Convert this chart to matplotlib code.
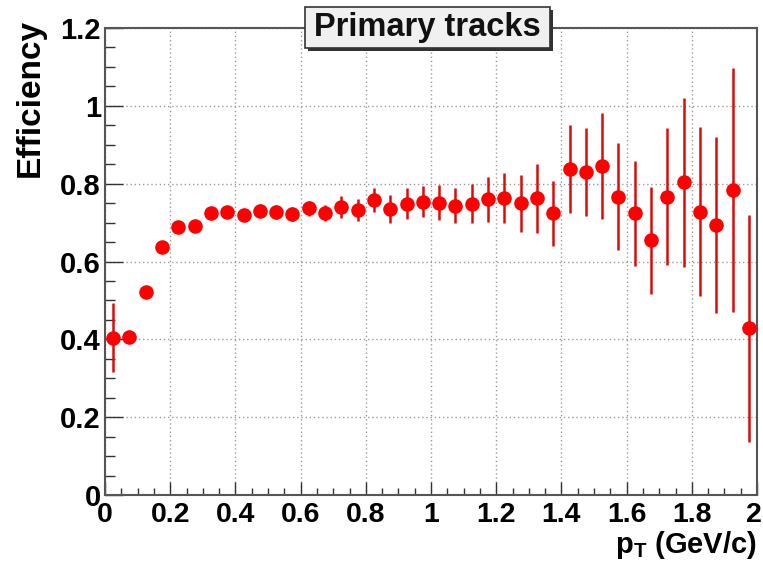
import matplotlib
matplotlib.use("Agg")
import matplotlib.pyplot as plt
import matplotlib.transforms as mtransforms
import numpy as np
from matplotlib.patches import Rectangle

# ---- data ----
pt_centers = [0.025, 0.075, 0.125, 0.175, 0.225, 0.275, 0.325, 0.375, 0.425, 0.475,
              0.525, 0.575, 0.625, 0.675, 0.725, 0.775, 0.825, 0.875, 0.925, 0.975,
              1.025, 1.075, 1.125, 1.175, 1.225, 1.275, 1.325, 1.375, 1.425, 1.475,
              1.525, 1.575, 1.625, 1.675, 1.725, 1.775, 1.825, 1.875, 1.925, 1.975]
efficiency = [0.404, 0.407, 0.521, 0.637, 0.688, 0.692, 0.724, 0.727, 0.720, 0.731,
              0.727, 0.722, 0.737, 0.724, 0.741, 0.733, 0.758, 0.734, 0.748, 0.754,
              0.751, 0.743, 0.748, 0.760, 0.763, 0.750, 0.762, 0.724, 0.837, 0.831,
              0.846, 0.767, 0.724, 0.654, 0.767, 0.803, 0.728, 0.694, 0.784, 0.428]
eff_err = [0.089, 0.010, 0.012, 0.012, 0.012, 0.013, 0.014, 0.015, 0.015, 0.016,
           0.017, 0.018, 0.019, 0.020, 0.028, 0.028, 0.032, 0.036, 0.040, 0.040,
           0.045, 0.045, 0.050, 0.058, 0.064, 0.073, 0.088, 0.084, 0.113, 0.113,
           0.136, 0.138, 0.135, 0.137, 0.177, 0.217, 0.217, 0.226, 0.314, 0.292]
x_ticks = [0, 0.2, 0.4, 0.6, 0.8, 1.0, 1.2, 1.4, 1.6, 1.8, 2.0]
x_tick_labels = ["0", "0.2", "0.4", "0.6", "0.8", "1", "1.2", "1.4", "1.6", "1.8", "2"]
y_ticks = [0, 0.2, 0.4, 0.6, 0.8, 1.0, 1.2]
y_tick_labels = ["0", "0.2", "0.4", "0.6", "0.8", "1", "1.2"]
title = "Primary tracks"
x_label = r"$\mathrm{p_{T}}$ (GeV/c)"
y_label = "Efficiency"

plt.rcParams['font.family'] = ['Liberation Sans', 'DejaVu Sans']
plt.rcParams['font.weight'] = 'bold'
plt.rcParams['mathtext.fontset'] = 'custom'
plt.rcParams['mathtext.rm'] = 'Liberation Sans:bold'
plt.rcParams['mathtext.it'] = 'Liberation Sans:bold'
plt.rcParams['mathtext.bf'] = 'Liberation Sans:bold'

W, H = 763, 569
fig = plt.figure(figsize=(W / 100, H / 100), dpi=100)
ax = fig.add_axes([105 / W, 1 - 495 / H, (757 - 105) / W, (495 - 28) / H])

ax.errorbar(pt_centers, efficiency, yerr=eff_err, fmt='o', color='#ff0000',
            ecolor='#dd0a0a', elinewidth=1.8, markersize=10.5, capsize=0,
            markeredgewidth=0, zorder=3)

ax.set_xlim(0, 2)
ax.set_ylim(0, 1.2)
ax.set_xticks(x_ticks)
ax.set_xticklabels(x_tick_labels)
ax.set_yticks(y_ticks)
ax.set_yticklabels(y_tick_labels)
ax.set_xticks(np.arange(0, 2.0001, 0.05), minor=True)
ax.set_yticks(np.arange(0, 1.2001, 0.05), minor=True)

ax.tick_params(axis='both', which='both', direction='in', top=False, right=False,
               color='#333333')
ax.tick_params(axis='x', which='major', length=9.5, width=1.0, pad=5, labelsize=20.5)
ax.tick_params(axis='x', which='minor', length=5, width=1.0)
ax.tick_params(axis='y', which='major', length=13, width=1.0, pad=3, labelsize=21)
ax.tick_params(axis='y', which='minor', length=7, width=1.0)
for lab in ax.get_xticklabels() + ax.get_yticklabels():
    lab.set_fontweight('bold')

# nudge the last x tick label so it stays inside the canvas
last = ax.xaxis.get_major_ticks()[-1].label1
last.set_transform(last.get_transform() +
                   mtransforms.ScaledTranslation(-3 / 100, 0, fig.dpi_scale_trans))

ax.grid(True, which='major', linestyle=(0, (1, 2)), color='#9a9a9a', linewidth=1.0)
ax.set_axisbelow(True)
for sp in ax.spines.values():
    sp.set_color('#555555')
    sp.set_linewidth(1.5)

ax.set_xlabel(x_label, fontsize=21, fontweight='bold', ha='right', va='top')
ax.xaxis.set_label_coords(1.0, -0.072)
ax.set_ylabel(y_label, fontsize=24, fontweight='bold', ha='right', va='center')
ax.yaxis.set_label_coords(-0.115, 1.02)

# title pave with shadow (ROOT style)
x0, x1, y0, y1 = 305, 550, 7, 48
fig.patches.append(Rectangle((x0 / W + 3 / W, 1 - (y1 + 3) / H), (x1 - x0) / W, (y1 - y0) / H,
                             transform=fig.transFigure, facecolor='#333333',
                             edgecolor='none', zorder=10))
fig.patches.append(Rectangle((x0 / W, 1 - y1 / H), (x1 - x0) / W, (y1 - y0) / H,
                             transform=fig.transFigure, facecolor='#f0f0f0',
                             edgecolor='#333333', linewidth=1.2, zorder=11))
fig.text((x0 + x1) / 2 / W, 1 - (y0 + y1) / 2 / H, title, ha='center', va='center',
         fontsize=23.5, fontweight='bold', color='#111111', zorder=12)

fig.savefig("out.png", dpi=100)
